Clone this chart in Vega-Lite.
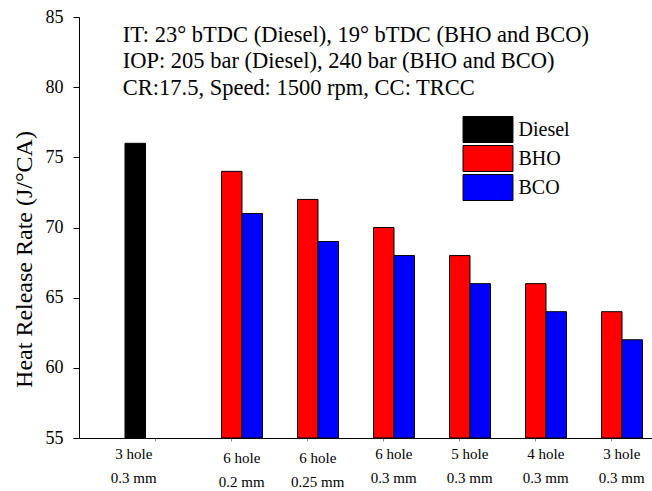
{
  "$schema": "https://vega.github.io/schema/vega-lite/v6.json",
  "width": 573,
  "height": 421,
  "autosize": "none",
  "padding": {"left": 79, "top": 17, "right": 0, "bottom": 53},
  "background": "white",
  "config": {"view": {"stroke": null}, "font": "Liberation Serif"},
  "layer": [
    {
      "data": {
        "values": [
          {"config": "3 hole|0.3 mm|Diesel", "fuel": "Diesel", "hrr": 76},
          {"config": "6 hole|0.2 mm", "fuel": "BHO", "hrr": 74},
          {"config": "6 hole|0.2 mm", "fuel": "BCO", "hrr": 71},
          {"config": "6 hole|0.25 mm", "fuel": "BHO", "hrr": 72},
          {"config": "6 hole|0.25 mm", "fuel": "BCO", "hrr": 69},
          {"config": "6 hole|0.3 mm", "fuel": "BHO", "hrr": 70},
          {"config": "6 hole|0.3 mm", "fuel": "BCO", "hrr": 68},
          {"config": "5 hole|0.3 mm", "fuel": "BHO", "hrr": 68},
          {"config": "5 hole|0.3 mm", "fuel": "BCO", "hrr": 66},
          {"config": "4 hole|0.3 mm", "fuel": "BHO", "hrr": 66},
          {"config": "4 hole|0.3 mm", "fuel": "BCO", "hrr": 64},
          {"config": "3 hole|0.3 mm", "fuel": "BHO", "hrr": 64},
          {"config": "3 hole|0.3 mm", "fuel": "BCO", "hrr": 62}
        ]
      },
      "mark": {"type": "bar", "stroke": "black", "strokeWidth": 1},
      "encoding": {
        "x": {
          "field": "config",
          "type": "nominal",
          "sort": null,
          "scale": {"paddingInner": 0.191, "paddingOuter": 0.365, "align": 0.829},
          "axis": {
            "title": null,
            "labelExpr": "slice(split(datum.label, '|'), 0, 2)",
            "labelAngle": 0,
            "labelFont": "Liberation Serif",
            "labelFontSize": 15,
            "labelColor": "black",
            "labelLineHeight": 24,
            "labelBaseline": "top",
            "labelOffset": {"condition": {"test": "indexof(datum.label, 'Diesel') >= 0", "value": -22}, "value": 10},
            "labelPadding": {"condition": {"test": "indexof(datum.label, '0.2 mm') >= 0 || indexof(datum.label, '0.25 mm') >= 0", "value": 9}, "value": 5},
            "tickSize": 3,
            "tickColor": "#888888",
            "domainColor": "black",
            "domainWidth": 1,
            "grid": false
          }
        },
        "xOffset": {
          "field": "fuel",
          "type": "nominal",
          "sort": ["Diesel", "BHO", "BCO"],
          "scale": {"domain": ["Diesel", "BHO", "BCO"], "paddingInner": 0, "paddingOuter": 0}
        },
        "y": {
          "field": "hrr",
          "type": "quantitative",
          "scale": {"domain": [55, 85], "nice": false, "zero": false},
          "axis": {
            "title": "Heat Release Rate (J/°CA)",
            "values": [55, 57.5, 60, 62.5, 65, 67.5, 70, 72.5, 75, 77.5, 80, 82.5, 85],
            "labelExpr": "datum.value % 5 == 0 ? datum.label : ''",
            "tickSize": {"condition": {"test": "datum.value % 5 != 0", "value": -3}, "value": 6},
            "tickColor": "black",
            "domainColor": "black",
            "labelFont": "Liberation Serif",
            "labelFontSize": 18,
            "labelColor": "black",
            "labelPadding": 10,
            "labelOverlap": false,
            "labelFlush": false,
            "grid": false,
            "titleFont": "Liberation Serif",
            "titleFontSize": 24,
            "titleFontWeight": "normal",
            "titleColor": "black",
            "titleX": -55,
            "titleY": 242,
            "titleBaseline": "middle",
            "titleAlign": "center"
          }
        },
        "y2": {"datum": 55},
        "fill": {
          "field": "fuel",
          "type": "nominal",
          "scale": {"domain": ["Diesel", "BHO", "BCO"], "range": ["#000000", "#ff0000", "#0000ff"]},
          "legend": {
            "title": null,
            "orient": "none",
            "legendX": 395.5,
            "legendY": 99,
            "symbolType": "M-1.92,-1H1.92V1H-1.92Z",
            "symbolSize": 676,
            "symbolStrokeColor": "black",
            "symbolStrokeWidth": 1,
            "symbolOpacity": 1,
            "labelFont": "Liberation Serif",
            "labelFontSize": 20,
            "labelColor": "black",
            "labelOffset": 17,
            "rowPadding": -2,
            "padding": 0,
            "labelLimit": 200
          }
        }
      }
    },
    {
      "data": {
        "values": [
          {"note": "IT: 23° bTDC (Diesel), 19° bTDC (BHO and BCO)\nIOP: 205 bar (Diesel), 240 bar (BHO and BCO)\nCR:17.5, Speed: 1500 rpm, CC: TRCC"}
        ]
      },
      "mark": {
        "type": "text",
        "lineBreak": "\n",
        "lineHeight": 26.5,
        "align": "left",
        "baseline": "alphabetic",
        "dx": -33,
        "font": "Liberation Serif",
        "fontSize": 22.5,
        "fontWeight": "normal",
        "color": "black"
      },
      "encoding": {
        "text": {"field": "note", "type": "nominal"},
        "x": {"datum": "3 hole|0.3 mm|Diesel"},
        "y": {"datum": 83.22}
      }
    }
  ]
}
